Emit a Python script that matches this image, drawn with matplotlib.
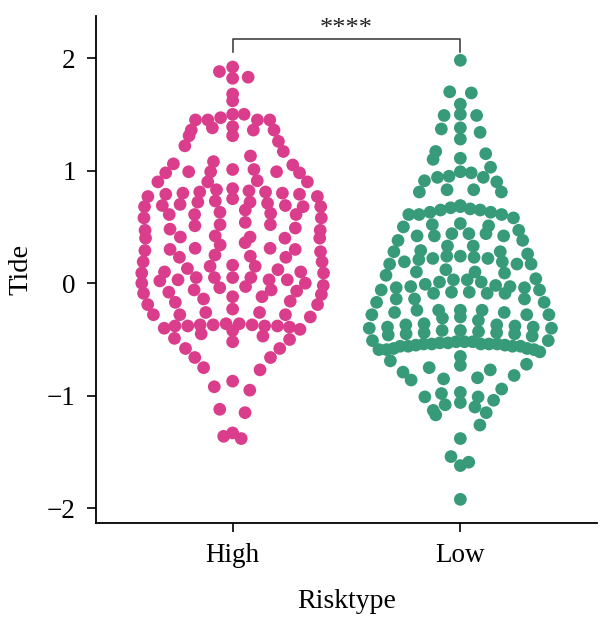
import numpy as np
import matplotlib
matplotlib.use("Agg")
import matplotlib.pyplot as plt

categories = ["High", "Low"]

high_values = [
    1.92, 1.88, 1.82, 1.83, 1.68, 1.62, 1.50, 1.45, 1.45, 1.47, 1.50, 1.45, 1.45,
    1.36, 1.38, 1.31, 1.31, 1.39, 1.36, 1.36, 1.26, 1.17, 1.22, 1.13,
    1.08, 1.06, 1.05, 1.01, 0.98, 0.98, 1.01, 0.99, 0.99, 0.99,
    0.90, 0.91, 0.90, 0.90,
    0.80, 0.81, 0.82, 0.84, 0.83, 0.81, 0.80, 0.79, 0.79,
    0.77, 0.77, 0.75,
    0.68, 0.69, 0.70, 0.72, 0.73, 0.72, 0.71, 0.69, 0.68, 0.68,
    0.65, 0.61, 0.62, 0.61, 0.61, 0.58, 0.63,
    0.54, 0.52, 0.58, 0.52, 0.51,
    0.47, 0.49, 0.48, 0.47, 0.41, 0.42, 0.40, 0.40, 0.41, 0.40,
    0.36, 0.34, 0.31, 0.30, 0.31, 0.30, 0.29, 0.28,
    0.23, 0.24, 0.25, 0.23, 0.19, 0.19,
    0.12, 0.15, 0.15, 0.16, 0.13, 0.10, 0.09, 0.10, 0.09,
    0.05, 0.05, 0.03, 0.03, 0.03, 0.02, 0.05, 0.05,
    -0.07, -0.06, -0.03, 0.00, -0.09, -0.10, 0.00, -0.06, -0.08, -0.02, -0.04,
    -0.17, -0.14, -0.12, -0.19, -0.23, -0.12, -0.16, -0.19,
    -0.28, -0.28, -0.26, -0.26, -0.28, -0.30,
    -0.42, -0.40, -0.38, -0.38, -0.37, -0.37, -0.36, -0.36, -0.37, -0.38,
    -0.38, -0.39, -0.41,
    -0.52, -0.49, -0.45, -0.47, -0.50,
    -0.58, -0.58,
    -0.66, -0.75, -0.66, -0.77,
    -0.92, -0.87, -0.95,
    -1.12, -1.15,
    -1.33, -1.38, -1.36,
]

low_values = [
    1.98,
    1.70, 1.69,
    1.59, 1.50, 1.49, 1.49,
    1.34, 1.38, 1.37, 1.28,
    1.17, 1.10, 1.15, 1.11, 1.03,
    0.99, 0.98, 0.95, 0.94, 0.94, 0.90, 0.91, 0.81, 0.83, 0.83, 0.81,
    0.61, 0.61, 0.63, 0.65, 0.67, 0.69, 0.68, 0.66, 0.65, 0.63, 0.61,
    0.58, 0.53, 0.52, 0.50, 0.51, 0.44, 0.44, 0.42, 0.42, 0.42, 0.47, 0.44,
    0.38, 0.38, 0.33, 0.33,
    0.17, 0.17, 0.19, 0.22, 0.23, 0.24, 0.28, 0.29, 0.28, 0.26, 0.24, 0.22,
    0.21, 0.19, 0.17,
    0.07, 0.10, 0.12, 0.10, 0.09, 0.03, 0.04,
    -0.09, -0.09, -0.08, -0.06, -0.04, -0.03, -0.02, 0.01, 0.03, 0.01, -0.01,
    -0.03, -0.04, -0.06, -0.08, -0.09,
    -0.17, -0.14, -0.14, -0.14, -0.17,
    -0.24, -0.28, -0.24, -0.28, -0.26, -0.24, -0.26, -0.28, -0.30, -0.31,
    -0.24, -0.33, -0.37, -0.36, -0.37,
    -0.47, -0.45, -0.44, -0.43, -0.42, -0.40, -0.39, -0.38, -0.39, -0.40,
    -0.42, -0.44, -0.45, -0.46,
    -0.51, -0.52, -0.54, -0.54, -0.54, -0.54, -0.53, -0.52, -0.53, -0.54,
    -0.55, -0.56, -0.58, -0.56, -0.51, -0.52,
    -0.61, -0.59, -0.59, -0.56, -0.56, -0.55, -0.58, -0.59, -0.65,
    -0.77, -0.73, -0.69, -0.72, -0.75, -0.86, -0.84, -0.79, -0.82, -0.85,
    -1.01, -0.98, -0.94, -0.97, -1.01, -1.04, -1.13, -1.10, -1.06, -1.08,
    -1.15, -1.17,
    -1.26, -1.38,
    -1.54, -1.62, -1.59,
    -1.92,
]

colors = ["#DA3D8C", "#379A79"]
signif_label = "****"

plt.rcParams["font.family"] = ["Liberation Serif", "DejaVu Serif"]


def frowney_offsets(vals, width=0.4):
    """Quasirandom 'frowney' layout (vipor style): points are grouped in
    y-bins, spread evenly across the local density width, highest values
    in the centre of each band."""
    y = np.asarray(vals, dtype=float)
    n = len(y)
    sd = y.std(ddof=1)
    q75, q25 = np.percentile(y, [75, 25])
    bw = 0.9 * min(sd, (q75 - q25) / 1.34) * n ** (-0.2)
    dens = np.exp(-0.5 * ((y[:, None] - y[None, :]) / bw) ** 2).sum(axis=1)
    grid = np.linspace(y.min() - 3 * bw, y.max() + 3 * bw, 512)
    gd = np.exp(-0.5 * ((grid[:, None] - y[None, :]) / bw) ** 2).sum(axis=1)
    dens = dens / gd.max()
    nbins = max(2, int(np.ceil(n / 5)))
    rng = y.max() - y.min()
    edges = np.linspace(y.min() - rng * 0.001, y.max() + rng * 0.001, nbins + 1)
    idx = np.clip(np.searchsorted(edges, y, side="left") - 1, 0, nbins - 1)
    pos = np.zeros(n)
    for b in range(nbins):
        members = np.where(idx == b)[0]
        k = len(members)
        if k <= 1:
            continue
        slots = np.linspace(-1, 1, k)
        slot_order = sorted(range(k), key=lambda j: (abs(slots[j]), slots[j]))
        mem_sorted = members[np.argsort(-y[members], kind="stable")]
        for m, s in zip(mem_sorted, slot_order):
            pos[m] = slots[s]
    return pos * dens * width


fig = plt.figure(figsize=(6, 6.18), dpi=100)
ax = fig.add_axes([0.16, 1 - 523 / 618, 0.835, (523 - 15.7) / 618])
ax.set_xlim(-0.6, 1.6)
ax.set_ylim(-2.13, 2.376)

for k, (vals, col) in enumerate(zip([high_values, low_values], colors)):
    off = frowney_offsets(vals)
    ax.scatter(k + off, vals, s=84, color=col, edgecolors="none", zorder=3)

ax.set_xticks([0, 1])
ax.set_xticklabels(categories)
ax.set_yticks([-2, -1, 0, 1, 2])
ax.set_yticklabels(["\u22122", "\u22121", "0", "1", "2"])
for s in ["top", "right"]:
    ax.spines[s].set_visible(False)
for s in ["left", "bottom"]:
    ax.spines[s].set_linewidth(1.3)
ax.tick_params(axis="both", length=6.5, width=1.2, labelsize=19.5)
ax.tick_params(axis="x", pad=8)
ax.tick_params(axis="y", pad=8)
ax.set_xlabel("Risktype", fontsize=20, labelpad=15)
ax.set_ylabel("Tide", fontsize=20.5, labelpad=10)

# significance bracket
ax.plot([0, 0, 1, 1], [2.05, 2.17, 2.17, 2.05], color="#333333", lw=1.1, clip_on=False)
ax.text(0.5, 2.26, signif_label, ha="center", va="center", fontsize=19, color="#222222")

fig.savefig("out.png", dpi=100)
